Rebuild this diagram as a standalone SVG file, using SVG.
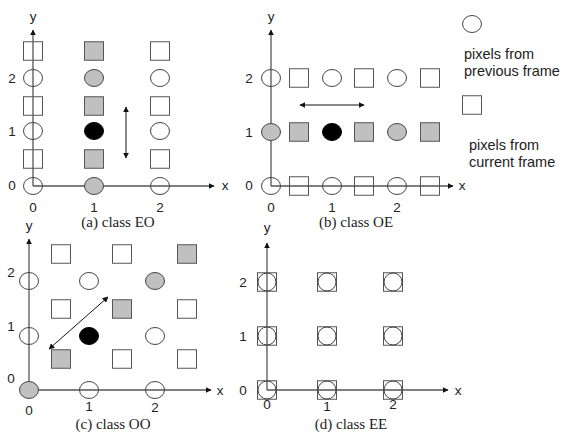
<svg xmlns="http://www.w3.org/2000/svg" width="563" height="434" viewBox="0 0 563 434">
<style>
.ax{stroke:#555;stroke-width:1.3;fill:none}
.dbl{stroke:#111;stroke-width:1;fill:none}
.c{fill:none;stroke:#444;stroke-width:1}
.s{fill:none;stroke:#555;stroke-width:1}
.g{fill:#c0c0c0}
.k{fill:#000;stroke:#000}
.t{font-family:"Liberation Sans",Arial,sans-serif;font-size:13.5px;fill:#222;text-anchor:middle;dominant-baseline:central}
.lg{font-family:"Liberation Sans",Arial,sans-serif;font-size:14.5px;fill:#222}
.cap{font-family:"Liberation Serif","Times New Roman",serif;font-size:15px;fill:#222;text-anchor:middle;dominant-baseline:central}
</style>
<defs>
<marker id="ah" viewBox="0 0 10 10" refX="9" refY="5" markerWidth="6" markerHeight="6" orient="auto-start-reverse" markerUnits="userSpaceOnUse">
<path d="M0,0 L10,5 L0,10 z" fill="#111"/>
</marker>
<ellipse id="ci" cx="0" cy="0" rx="9.5" ry="8.5"/>
<rect id="sq" x="-9.5" y="-9.25" width="19" height="18.5"/>
</defs>

<g id="connectors">
<path class="ax" d="M33,186 V30" marker-end="url(#ah)"/>
<path class="ax" d="M33,186 H214" marker-end="url(#ah)"/>
<path class="dbl" d="M126,107 V158" marker-start="url(#ah)" marker-end="url(#ah)"/>
<path class="ax" d="M271,186 V30" marker-end="url(#ah)"/>
<path class="ax" d="M271,186 H453" marker-end="url(#ah)"/>
<path class="dbl" d="M300,105 H364" marker-start="url(#ah)" marker-end="url(#ah)"/>
<path class="ax" d="M29,390 V239" marker-end="url(#ah)"/>
<path class="ax" d="M29,390 H211" marker-end="url(#ah)"/>
<path class="dbl" d="M49,349 L108,297" marker-start="url(#ah)" marker-end="url(#ah)"/>
<path class="ax" d="M267,390 V243" marker-end="url(#ah)"/>
<path class="ax" d="M267,390 H448" marker-end="url(#ah)"/>
</g>

<g id="panel-a">
<use href="#sq" class="s" x="33" y="51"/><use href="#sq" class="s" x="33" y="106"/><use href="#sq" class="s" x="33" y="159"/>
<use href="#sq" class="s g" x="94" y="51"/><use href="#sq" class="s g" x="94" y="106"/><use href="#sq" class="s g" x="94" y="159"/>
<use href="#sq" class="s" x="160" y="51"/><use href="#sq" class="s" x="160" y="106"/><use href="#sq" class="s" x="160" y="159"/>
<use href="#ci" class="c" x="33" y="78"/><use href="#ci" class="c" x="33" y="131"/><use href="#ci" class="c" x="33" y="186"/>
<use href="#ci" class="c g" x="94" y="78"/><use href="#ci" class="c k" x="94" y="131"/><use href="#ci" class="c g" x="94" y="186"/>
<use href="#ci" class="c" x="160" y="78"/><use href="#ci" class="c" x="160" y="131"/><use href="#ci" class="c" x="160" y="186"/>
<text class="t" x="33" y="16">y</text><text class="t" x="225" y="185">x</text>
<text class="t" x="12" y="78">2</text><text class="t" x="12" y="131">1</text><text class="t" x="12" y="185">0</text>
<text class="t" x="33" y="207">0</text><text class="t" x="94" y="207">1</text><text class="t" x="160" y="207">2</text>
<text class="cap" x="118" y="222">(a) class EO</text>
</g>

<g id="panel-b">
<use href="#ci" class="c" x="271" y="78"/><use href="#sq" class="s" x="299" y="78"/><use href="#ci" class="c" x="332" y="78"/><use href="#sq" class="s" x="364" y="78"/><use href="#ci" class="c" x="397" y="78"/><use href="#sq" class="s" x="430" y="78"/>
<use href="#ci" class="c g" x="271" y="132"/><use href="#sq" class="s g" x="299" y="132"/><use href="#ci" class="c k" x="332" y="132"/><use href="#sq" class="s g" x="364" y="132"/><use href="#ci" class="c g" x="397" y="132"/><use href="#sq" class="s g" x="430" y="132"/>
<use href="#ci" class="c" x="271" y="186"/><use href="#sq" class="s" x="299" y="186"/><use href="#ci" class="c" x="332" y="186"/><use href="#sq" class="s" x="364" y="186"/><use href="#ci" class="c" x="397" y="186"/><use href="#sq" class="s" x="430" y="186"/>
<text class="t" x="271" y="16">y</text><text class="t" x="462" y="185">x</text>
<text class="t" x="249" y="78">2</text><text class="t" x="249" y="132">1</text><text class="t" x="249" y="185">0</text>
<text class="t" x="271" y="207">0</text><text class="t" x="332" y="207">1</text><text class="t" x="397" y="207">2</text>
<text class="cap" x="356" y="222">(b) class OE</text>
</g>

<g id="legend">
<use href="#ci" class="c" x="472" y="24"/>
<text class="lg" x="464" y="59">pixels from</text>
<text class="lg" x="464" y="76">previous frame</text>
<use href="#sq" class="s" x="472" y="105"/>
<text class="lg" x="469" y="150">pixels from</text>
<text class="lg" x="469" y="167">current frame</text>
</g>

<g id="panel-c">
<use href="#sq" class="s" x="61" y="254"/><use href="#sq" class="s" x="122" y="254"/><use href="#sq" class="s g" x="187" y="254"/>
<use href="#sq" class="s" x="61" y="309"/><use href="#sq" class="s g" x="122" y="309"/><use href="#sq" class="s" x="187" y="309"/>
<use href="#sq" class="s g" x="61" y="359"/><use href="#sq" class="s" x="122" y="359"/><use href="#sq" class="s" x="187" y="359"/>
<use href="#ci" class="c" x="29" y="281"/><use href="#ci" class="c" x="89" y="281"/><use href="#ci" class="c g" x="155" y="281"/>
<use href="#ci" class="c" x="29" y="336"/><use href="#ci" class="c k" x="89" y="336"/><use href="#ci" class="c" x="155" y="336"/>
<use href="#ci" class="c g" x="29" y="390"/><use href="#ci" class="c" x="89" y="390"/><use href="#ci" class="c" x="155" y="390"/>
<text class="t" x="29" y="225">y</text><text class="t" x="220" y="390">x</text>
<text class="t" x="11" y="272">2</text><text class="t" x="11" y="326">1</text><text class="t" x="11" y="378">0</text>
<text class="t" x="29" y="410">0</text><text class="t" x="89" y="406">1</text><text class="t" x="155" y="407">2</text>
<text class="cap" x="113" y="424">(c) class OO</text>
</g>

<g id="panel-d">
<use href="#sq" class="s" x="267" y="282"/><use href="#sq" class="s" x="327" y="282"/><use href="#sq" class="s" x="393" y="282"/>
<use href="#sq" class="s" x="267" y="336"/><use href="#sq" class="s" x="327" y="336"/><use href="#sq" class="s" x="393" y="336"/>
<use href="#sq" class="s" x="267" y="390"/><use href="#sq" class="s" x="327" y="390"/><use href="#sq" class="s" x="393" y="390"/>
<g class="c" fill="none">
<circle cx="267" cy="282" r="9"/><circle cx="327" cy="282" r="9"/><circle cx="393" cy="282" r="9"/>
<circle cx="267" cy="336" r="9"/><circle cx="327" cy="336" r="9"/><circle cx="393" cy="336" r="9"/>
<circle cx="267" cy="390" r="9"/><circle cx="327" cy="390" r="9"/><circle cx="393" cy="390" r="9"/>
</g>
<text class="t" x="267" y="227">y</text><text class="t" x="458" y="390">x</text>
<text class="t" x="243" y="282">2</text><text class="t" x="243" y="336">1</text><text class="t" x="243" y="390">0</text>
<text class="t" x="267" y="404">0</text><text class="t" x="327" y="406">1</text><text class="t" x="393" y="404">2</text>
<text class="cap" x="351" y="424">(d) class EE</text>
</g>
</svg>
